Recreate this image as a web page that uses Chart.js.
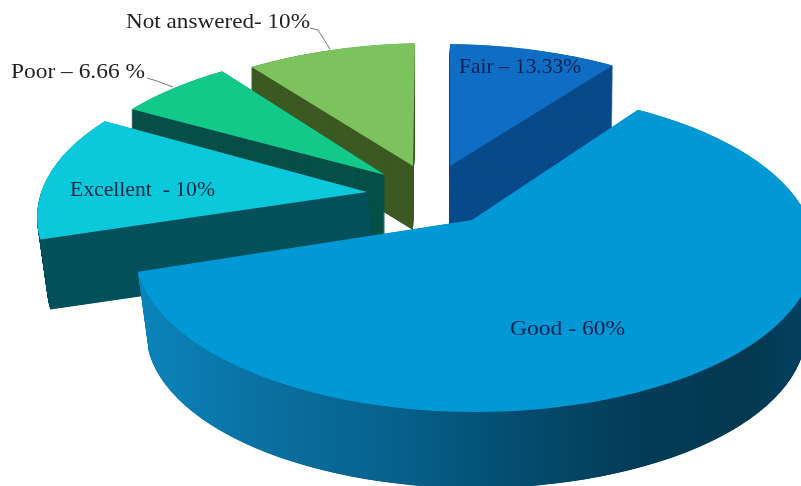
<!DOCTYPE html>
<html><head><meta charset="utf-8">
<style>html,body{margin:0;padding:0;background:#fff;overflow:hidden}canvas{display:block;filter:blur(.4px)}</style>
<script src="https://cdn.jsdelivr.net/npm/chart.js@4/dist/chart.umd.min.js"></script>
</head><body>
<canvas id="c" width="801" height="486"></canvas>
<script>
const categories = ['Fair', 'Good', 'Excellent', 'Poor', 'Not answered'];
const percentages = [13.33, 60, 10, 6.66, 10];
const sliceLabels = ['Fair – 13.33%', 'Good - 60%', 'Excellent  - 10%', 'Poor – 6.66 %', 'Not answered- 10%'];
const topColors = ['#0f6dc3', '#0099d6', '#0bc8da', '#13c98a', '#7cc35e'];
const wallColors = ['#0a4c8a', null, '#05525c', '#085048', '#3e5a24'];

// Pseudo-3D view of each exploded slice (style only; angles come from the data).
const sliceViews = [
  {apex:[450,166], m:[222,-27.5,0,122],      k:1.5, ell:[443,204],   b:160, wall:[-1,72], shrink:0},
  {apex:[472,220], m:[350,-39,134.6,125.5],  k:2.0, ell:[475,251],   b:161, wall:[1,81],  shrink:.03},
  {apex:[367,192], m:[325,-28.5,-53,187],    k:1.3, ell:[377,217],   b:160, wall:[10,70], shrink:0},
  {apex:[385,175], m:[300.7,3.9,-20.7,123.3],k:1.5, ell:[400,207.5], b:160, wall:[0,66],  shrink:0},
  {apex:[413,166], m:[280,2.2,-2,122],       k:1.4, ell:[430,203],   b:160, wall:[0,64],  shrink:0}
];
const drawOrder = [0,4,3,2,1];
const ELL_A = 340;
const labelPlaces = [
  {x:459,y:67,w:122,c:'#0a2050'},{x:510,y:329,w:115,c:'#0a2050'},{x:70,y:190,w:145,c:'#072a45'},
  {x:11,y:72,w:134,c:'#222'},{x:126,y:22,w:184,c:'#222'}];
const leaders = [
  [[310,28],[318,30],[330,49]],
  [[147,78],[157,81],[173,87]]];
const goodWallStops = [[0,'#0b84bb'],[.2,'#0a6f9f'],[.4,'#06608a'],[.55,'#044f72'],[.75,'#033c58'],[.92,'#03384f'],[1,'#034060']];

function paintSlice(ctx, arc, view, color, dx, dy, shrink){
  const R0 = arc.outerRadius, m = view.m, k = view.k;
  const proxy = Object.create(arc);
  proxy.options = {backgroundColor:color,borderColor:'transparent',borderWidth:0,offset:0,spacing:0,
    borderRadius:0,borderAlign:'center',circular:true,borderDash:[],borderDashOffset:0,borderJoinStyle:'round'};
  ctx.save();
  ctx.beginPath();
  ctx.ellipse(view.ell[0]+dx, view.ell[1]+dy, ELL_A*(1-shrink), view.b*(1-shrink), 0, 0, Math.PI*2);
  ctx.clip();
  ctx.translate(view.apex[0]+dx, view.apex[1]+dy);
  ctx.transform(m[0]*k/R0, m[1]*k/R0, m[2]*k/R0, m[3]*k/R0, 0, 0);
  ctx.translate(-arc.x, -arc.y);
  proxy.draw(ctx);
  ctx.restore();
}
function paintWall(ctx, arc, view, color){
  const n = Math.ceil(Math.hypot(view.wall[0], view.wall[1]))*3;
  for(let i=n;i>=1;i--){
    const t=i/n;
    paintSlice(ctx, arc, view, color, view.wall[0]*t, view.wall[1]*t, view.shrink*t);
  }
}
const pie3d = {
  id:'pie3d',
  beforeDatasetsDraw(chart){
    const ctx = chart.ctx, arcs = chart.getDatasetMeta(0).data;
    drawOrder.forEach(i=>{
      const arc = arcs[i], view = sliceViews[i];
      if(wallColors[i]){
        paintWall(ctx, arc, view, wallColors[i]);
      } else {
        const off = document.createElement('canvas');
        off.width = chart.width; off.height = chart.height;
        const o = off.getContext('2d');
        paintWall(o, arc, view, '#000');
        o.globalCompositeOperation='source-in';
        const g = o.createLinearGradient(140,0,801,0);
        goodWallStops.forEach(s=>g.addColorStop(s[0],s[1]));
        o.fillStyle=g; o.fillRect(0,0,off.width,off.height);
        ctx.drawImage(off,0,0);
      }
      paintSlice(ctx, arc, view, topColors[i], 0, 0, 0);
    });
    return false;
  },
  afterDraw(chart){
    const ctx = chart.ctx;
    ctx.save();
    ctx.strokeStyle='#777'; ctx.lineWidth=1;
    leaders.forEach(l=>{ctx.beginPath();l.forEach((p,i)=>i?ctx.lineTo(p[0],p[1]):ctx.moveTo(p[0],p[1]));ctx.stroke();});
    ctx.textBaseline='middle'; ctx.textAlign='left';
    ctx.font='21px "Liberation Serif"';
    sliceLabels.forEach((t,i)=>{
      const p=labelPlaces[i]; ctx.fillStyle=p.c;
      const w=ctx.measureText(t).width;
      ctx.save(); ctx.translate(p.x,p.y); ctx.scale(p.w/w,1); ctx.fillText(t,0,0); ctx.restore();
    });
    ctx.restore();
  }
};
new Chart(document.getElementById('c'),{
  type:'pie',
  data:{labels:categories,datasets:[{data:percentages,backgroundColor:topColors,borderWidth:0}]},
  options:{responsive:false,animation:false,layout:{padding:0},
    plugins:{legend:{display:false},tooltip:{enabled:false}}},
  plugins:[pie3d]
});
</script>
</body></html>
